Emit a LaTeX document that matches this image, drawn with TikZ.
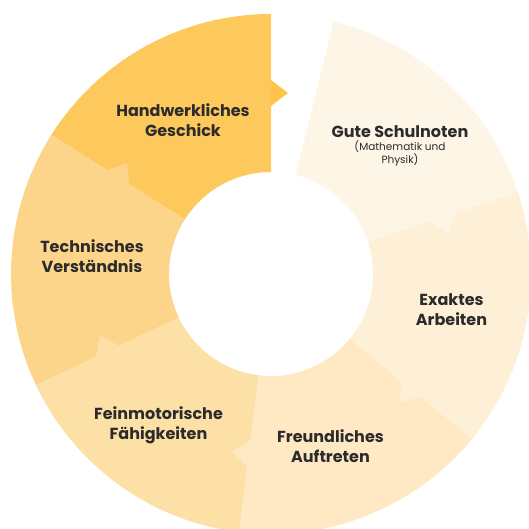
\documentclass[tikz,border=0pt]{standalone}
\usepackage{fontspec}
\setmainfont{Poppins}
\definecolor{cH}{HTML}{FEC95C}
\definecolor{cHtip}{HTML}{FFC448}
\definecolor{cT}{HTML}{FDD58A}
\definecolor{cF}{HTML}{FDE0A6}
\definecolor{cR}{HTML}{FEE9C4}
\definecolor{cE}{HTML}{FEF0D6}
\definecolor{cG}{HTML}{FDF5E6}
\definecolor{txt}{HTML}{2B2B2B}
\begin{document}
\begin{tikzpicture}[
  lbl/.style={text=txt, font=\fontsize{16}{20}\selectfont\bfseries, align=center, inner sep=0pt},
  sublbl/.style={text=txt, font=\fontsize{10.5}{12.5}\selectfont, align=center, inner sep=0pt}]
\clip (-271pt,-254pt) rectangle (258pt,274pt);
% sectors
\foreach \b/\c in {90/cH,147.67/cT,205.33/cF,263/cR,320.67/cE,378.33/cG} {
  \fill[\c] (\b:102pt) -- (\b:260pt) arc[start angle=\b, delta angle=57.67, radius=260pt]
    -- ({\b+57.67}:102pt) arc[start angle={\b+57.67}, delta angle=-57.67, radius=102pt] -- cycle;
}
% arrowheads at the clockwise edge of each sector
\foreach \b/\c in {90/cHtip,147.67/cT,205.33/cF,263/cR,320.67/cE,378.33/cG} {
  \fill[\c, rotate=\b] (168pt,0pt) -- (194pt,0pt) -- (181pt,-17pt) -- cycle;
}
% labels
\node[lbl] (hand) at (-88pt,154pt) {Handwerkliches\\Geschick};
\node[lbl] (tech) at (-179pt,18pt) {Technisches\\Verständnis};
\node[lbl] (fein) at (-112.5pt,-151pt) {Feinmotorische\\Fähigkeiten};
\node[lbl] (freu) at (59.5pt,-172pt) {Freundliches\\Auftreten};
\node[lbl] (exak) at (180.5pt,-36pt) {Exaktes\\Arbeiten};
\node[lbl, anchor=base] (gute) at (129pt,137pt) {Gute Schulnoten};
\node[sublbl] (gutesub) at (129pt,120.5pt) {(Mathematik und\\Physik)};
\end{tikzpicture}
\end{document}
